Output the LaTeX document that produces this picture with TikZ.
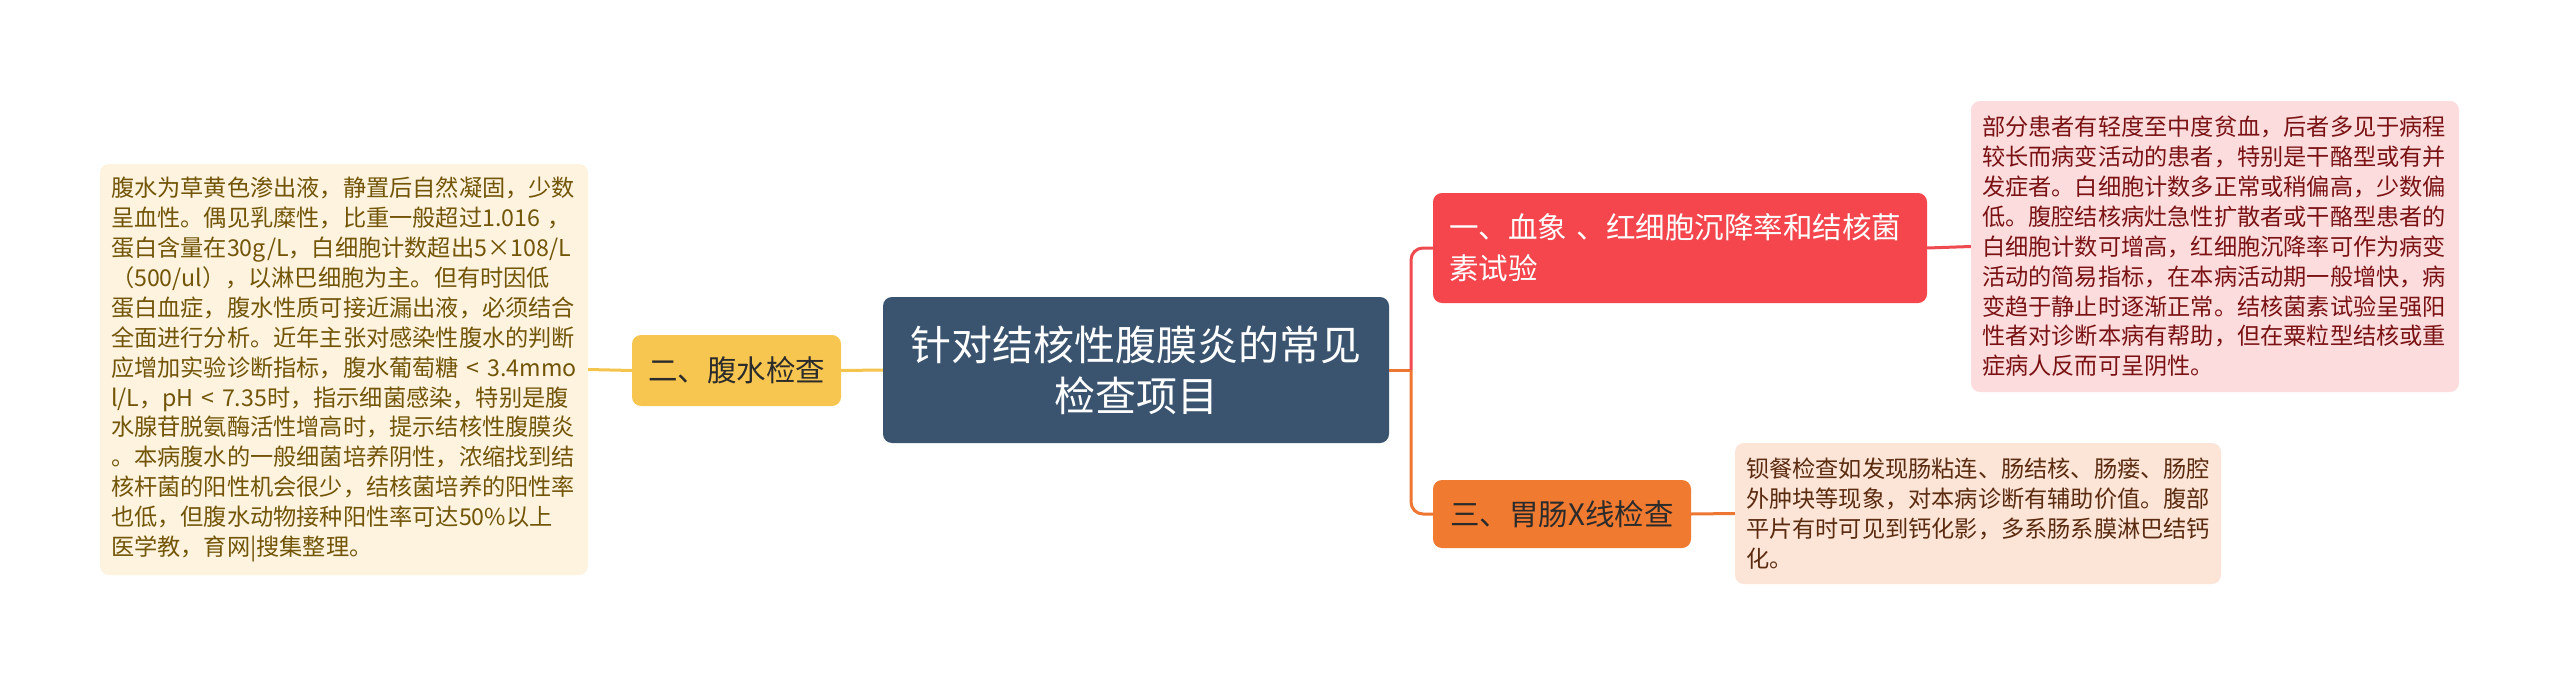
\documentclass[tikz,border=0pt]{standalone}
\usepackage{fontspec}
\setmainfont{Noto Sans CJK SC}
\definecolor{rootfill}{HTML}{3A5470}
\definecolor{yelfill}{HTML}{F7C651}
\definecolor{yelline}{HTML}{F5C44C}
\definecolor{creamfill}{HTML}{FDF3DE}
\definecolor{creamtext}{HTML}{735508}
\definecolor{redfill}{HTML}{F5464D}
\definecolor{redline}{HTML}{EE4A50}
\definecolor{pinkfill}{HTML}{FCDCDD}
\definecolor{pinktext}{HTML}{7A1214}
\definecolor{orgfill}{HTML}{EF7A30}
\definecolor{orgline}{HTML}{EC7632}
\definecolor{peachfill}{HTML}{FCE5D7}
\definecolor{peachtext}{HTML}{5B2B10}
\definecolor{darktext}{HTML}{2B2B2B}
\begin{document}
\begin{tikzpicture}[x=1pt,y=-1pt,
  every node/.style={inner sep=0pt},
  leaf/.style={rounded corners=9pt, align=left, inner xsep=11pt,
    font=\fontsize{23.2}{29.9}\selectfont},
  rootbox/.style={rounded corners=9pt, fill=rootfill, text=white, align=center,
    minimum width=506pt, minimum height=146pt,
    font=\fontsize{41}{51}\selectfont},
  branchbox/.style={rounded corners=9pt, font=\fontsize{29.5}{41}\selectfont},
  conn/.style={line width=3pt}
]
\useasboundingbox[fill=white] (0,0) rectangle (2560,685);

\node[rootbox] (root) at (1136,370) {针对结核性腹膜炎的常见\\检查项目};

\node[branchbox, fill=yelfill, text=darktext, minimum width=209pt, minimum height=71pt] (b2) at (736.5,370.5) {二、腹水检查};

\node[leaf, fill=creamfill, text=creamtext, text width=466pt, minimum height=411pt] (t2) at (344,369.5) {腹水为草黄色渗出液，静置后自然凝固，少数\\
呈血性。偶见乳糜性，比重一般超过1.016 ，\\
蛋白含量在30g/L，白细胞计数超出5×108/L\\
（500/ul），以淋巴细胞为主。但有时因低\\
蛋白血症，腹水性质可接近漏出液，必须结合\\
全面进行分析。近年主张对感染性腹水的判断\\
应增加实验诊断指标，腹水葡萄糖 < 3.4mmo\\
l/L，pH < 7.35时，指示细菌感染，特别是腹\\
水腺苷脱氨酶活性增高时，提示结核性腹膜炎\\
。本病腹水的一般细菌培养阴性，浓缩找到结\\
核杆菌的阳性机会很少，结核菌培养的阳性率\\
也低，但腹水动物接种阳性率可达50\%以上\\
医学教，育网|搜集整理。};

\node[branchbox, fill=redfill, text=white, align=left, text width=462pt, inner xsep=16pt, minimum height=110pt] (b1) at (1680,248) {一、血象 、红细胞沉降率和结核菌\\素试验};

\node[leaf, fill=pinkfill, text=pinktext, text width=466pt, minimum height=291pt] (t1) at (2215,246.5) {部分患者有轻度至中度贫血，后者多见于病程\\
较长而病变活动的患者，特别是干酪型或有并\\
发症者。白细胞计数多正常或稍偏高，少数偏\\
低。腹腔结核病灶急性扩散者或干酪型患者的\\
白细胞计数可增高，红细胞沉降率可作为病变\\
活动的简易指标，在本病活动期一般增快，病\\
变趋于静止时逐渐正常。结核菌素试验呈强阳\\
性者对诊断本病有帮助，但在粟粒型结核或重\\
症病人反而可呈阴性。};

\node[branchbox, fill=orgfill, text=darktext, minimum width=258pt, minimum height=68pt] (b3) at (1562,514) {三、胃肠X线检查};

\node[leaf, fill=peachfill, text=peachtext, text width=464pt, minimum height=141pt] (t3) at (1978,513.5) {钡餐检查如发现肠粘连、肠结核、肠瘘、肠腔\\
外肿块等现象，对本病诊断有辅助价值。腹部\\
平片有时可见到钙化影，多系肠系膜淋巴结钙\\
化。};

\coordinate (j) at (1411,370);

\draw[conn, yelline] (root.west) -- (b2.east);
\draw[conn, yelline] (b2.west) -- (t2.east);
\draw[conn, orgline] (root.east) -- (j);
\draw[conn, redline, rounded corners=12pt] (j) |- (b1.west);
\draw[conn, orgline, rounded corners=12pt] (j) |- (b3.west);
\draw[conn, redline] (b1.east) -- (t1.west);
\draw[conn, orgline] (b3.east) -- (t3.west);
\end{tikzpicture}
\end{document}
